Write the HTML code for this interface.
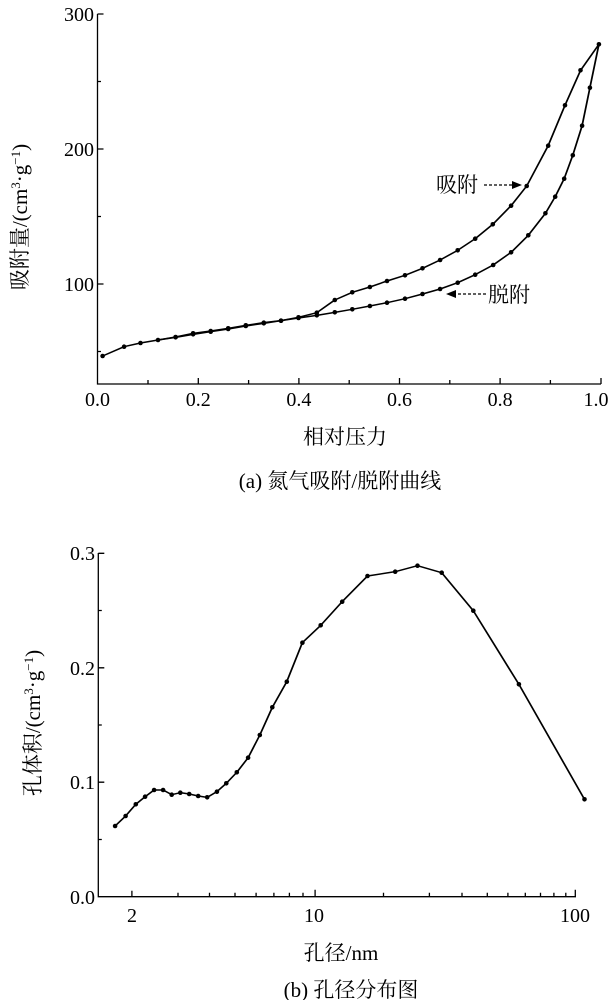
<!DOCTYPE html>
<html><head><meta charset="utf-8"><style>
html,body{margin:0;padding:0;background:#fff}
svg{display:block}
.n{font-family:"Liberation Serif",serif;font-size:20px;fill:#000}
.c{font-family:"Liberation Serif","Noto Serif CJK SC","Noto Sans CJK SC",serif;font-size:21px;fill:#000}
</style></head><body>
<svg width="611" height="1000" viewBox="0 0 611 1000" xmlns="http://www.w3.org/2000/svg">
<!-- TOP CHART -->
<g stroke="#000" stroke-width="1.3" fill="none">
<path d="M97.5,14 V384 H601"/>
<!-- y ticks -->
<path d="M97.5,14 h6 M97.5,81.5 h3.5 M97.5,149 h6 M97.5,216.5 h3.5 M97.5,284 h6 M97.5,351.5 h3.5"/>
<!-- x ticks -->
<path d="M148,384 v-4 M198.3,384 v-6 M248.6,384 v-4 M298.9,384 v-6 M349.2,384 v-4 M399.5,384 v-6 M449.8,384 v-4 M500.1,384 v-6 M550.4,384 v-4 M601,384 v-6"/>
</g>
<g class="n" text-anchor="end">
<text x="94" y="21">300</text><text x="94" y="156">200</text><text x="94" y="291">100</text>
</g>
<g class="n" text-anchor="middle">
<text x="97.5" y="406">0.0</text><text x="198.3" y="406">0.2</text><text x="298.9" y="406">0.4</text><text x="399.5" y="406">0.6</text><text x="500.1" y="406">0.8</text><text x="596" y="406">1.0</text>
</g>
<g transform="scale(0.39016,0.33333)" fill="none" stroke="#000" stroke-width="4.5" stroke-linejoin="round">
<polyline points="263,1068 318,1040 360,1029 405,1020 450,1011 495,1000 540,993 585,985 630,976 676,968 720,962 765,952 812,938 858,900 903,877 948,861 992,843 1038,826 1083,805 1128,780 1173,751 1218,716 1263,673 1310,617 1350,558 1405,437 1448,316 1488,211 1535,133"/>
<polyline points="1535,133 1512,263 1492,377 1468,466 1446,536 1423,590 1398,640 1354,706 1310,757 1264,795 1218,824 1173,848 1128,867 1083,882 1038,896 992,908 948,918 903,928 858,937 812,946 765,954 720,962 676,970 630,978 585,987 540,995 495,1003 450,1012 405,1020"/>
</g>
<g fill="#000" id="dotsA"></g>
<!-- annotations -->
<text class="c" x="436" y="192">吸附</text>
<path d="M484,185 H514" stroke="#000" stroke-width="1.2" stroke-dasharray="3,2"/>
<path d="M522,185 L512,181 L512,189 Z" fill="#000"/>
<text class="c" x="488" y="302">脱附</text>
<path d="M486,294 H455" stroke="#000" stroke-width="1.2" stroke-dasharray="3,2"/>
<path d="M446,294 L456,290 L456,298 Z" fill="#000"/>
<text class="c" x="345" y="444" text-anchor="middle">相对压力</text>
<text class="c" x="340" y="488" text-anchor="middle">(a) 氮气吸附/脱附曲线</text>
<text class="c" transform="translate(27,217) rotate(-90)" text-anchor="middle">吸附量/(cm<tspan font-size="13" dy="-7">3</tspan><tspan dy="7">·g</tspan><tspan font-size="13" dy="-7">−1</tspan><tspan dy="7">)</tspan></text>

<!-- BOTTOM CHART -->
<g stroke="#000" stroke-width="1.3" fill="none">
<path d="M98.3,553 V896.7 H576"/>
<path d="M98.3,553.3 h6 M98.3,610.5 h3.5 M98.3,667.8 h6 M98.3,725 h3.5 M98.3,782.2 h6 M98.3,839.5 h3.5"/>
<g id="xt"></g>
</g>
<g class="n" text-anchor="end">
<text x="95" y="560">0.3</text><text x="95" y="675">0.2</text><text x="95" y="789">0.1</text><text x="95" y="904">0.0</text>
</g>
<g class="n" text-anchor="middle">
<text x="132" y="922">2</text><text x="314" y="922">10</text><text x="575" y="922">100</text>
</g>
<g transform="translate(0,520) scale(0.39016,0.33333)" fill="none" stroke="#000" stroke-width="4.5" stroke-linejoin="round">
<polyline id="pb" points="295,918 322,888 348,853 372,830 395,810 418,810 440,824 462,818 485,822 508,828 531,832 556,815 580,790 607,757 636,713 666,645 698,562 735,485 775,368 822,316 877,245 942,168 1013,155 1070,137 1132,158 1213,272 1330,493 1498,838"/>
</g>
<g fill="#000" id="dotsB"></g>
<text class="c" x="341" y="960" text-anchor="middle">孔径/nm</text>
<text class="c" x="351" y="1000" text-anchor="middle" dy="-3">(b) 孔径分布图</text>
<text class="c" transform="translate(40,723) rotate(-90)" text-anchor="middle">孔体积/(cm<tspan font-size="13" dy="-7">3</tspan><tspan dy="7">·g</tspan><tspan font-size="13" dy="-7">−1</tspan><tspan dy="7">)</tspan></text>

<!-- static dots -->
<g fill="#000">
<circle cx="102.6" cy="356" r="2.3"/><circle cx="124.1" cy="346.7" r="2.3"/><circle cx="140.5" cy="343" r="2.3"/><circle cx="158" cy="340" r="2.3"/><circle cx="175.6" cy="337" r="2.3"/><circle cx="193.1" cy="333.3" r="2.3"/><circle cx="210.7" cy="331" r="2.3"/><circle cx="228.2" cy="328.3" r="2.3"/><circle cx="245.8" cy="325.3" r="2.3"/><circle cx="263.8" cy="322.7" r="2.3"/><circle cx="281" cy="320.7" r="2.3"/><circle cx="298.5" cy="317.3" r="2.3"/><circle cx="316.8" cy="312.7" r="2.3"/><circle cx="334.8" cy="300" r="2.3"/><circle cx="352.3" cy="292.3" r="2.3"/><circle cx="369.9" cy="287" r="2.3"/><circle cx="387" cy="281" r="2.3"/><circle cx="405" cy="275.3" r="2.3"/><circle cx="422.5" cy="268.3" r="2.3"/><circle cx="440.1" cy="260" r="2.3"/><circle cx="457.7" cy="250.3" r="2.3"/><circle cx="475.2" cy="238.7" r="2.3"/><circle cx="492.8" cy="224.3" r="2.3"/><circle cx="511.1" cy="205.7" r="2.3"/><circle cx="526.7" cy="186" r="2.3"/><circle cx="548.2" cy="145.7" r="2.3"/><circle cx="565" cy="105.3" r="2.3"/><circle cx="580.5" cy="70.3" r="2.3"/><circle cx="598.9" cy="44.3" r="2.3"/>
<circle cx="589.9" cy="87.7" r="2.3"/><circle cx="582.1" cy="125.7" r="2.3"/><circle cx="572.8" cy="155.3" r="2.3"/><circle cx="564.2" cy="178.7" r="2.3"/><circle cx="555.2" cy="196.7" r="2.3"/><circle cx="545.4" cy="213.3" r="2.3"/><circle cx="528.3" cy="235.3" r="2.3"/><circle cx="511.1" cy="252.3" r="2.3"/><circle cx="493.2" cy="265" r="2.3"/><circle cx="475.2" cy="274.7" r="2.3"/><circle cx="457.7" cy="282.7" r="2.3"/><circle cx="440.1" cy="289" r="2.3"/><circle cx="422.5" cy="294" r="2.3"/><circle cx="405" cy="298.7" r="2.3"/><circle cx="387" cy="302.7" r="2.3"/><circle cx="369.9" cy="306" r="2.3"/><circle cx="352.3" cy="309.3" r="2.3"/><circle cx="334.8" cy="312.3" r="2.3"/><circle cx="316.8" cy="315.3" r="2.3"/><circle cx="298.5" cy="318" r="2.3"/><circle cx="281" cy="320.7" r="2.3"/><circle cx="263.8" cy="323.3" r="2.3"/><circle cx="245.8" cy="326" r="2.3"/><circle cx="228.2" cy="329" r="2.3"/><circle cx="210.7" cy="331.7" r="2.3"/><circle cx="193.1" cy="334.3" r="2.3"/><circle cx="175.6" cy="337.3" r="2.3"/>
</g>
<g fill="#000">
<circle cx="115.1" cy="826" r="2.3"/><circle cx="125.6" cy="816" r="2.3"/><circle cx="135.8" cy="804.3" r="2.3"/><circle cx="145.1" cy="796.7" r="2.3"/><circle cx="154.1" cy="790" r="2.3"/><circle cx="163.1" cy="790" r="2.3"/><circle cx="171.7" cy="794.7" r="2.3"/><circle cx="180.3" cy="792.7" r="2.3"/><circle cx="189.2" cy="794" r="2.3"/><circle cx="198.2" cy="796" r="2.3"/><circle cx="207.2" cy="797.3" r="2.3"/><circle cx="216.9" cy="791.7" r="2.3"/><circle cx="226.3" cy="783.3" r="2.3"/><circle cx="236.8" cy="772.3" r="2.3"/><circle cx="248.1" cy="757.7" r="2.3"/><circle cx="259.8" cy="735" r="2.3"/><circle cx="272.3" cy="707.3" r="2.3"/><circle cx="286.8" cy="681.7" r="2.3"/><circle cx="302.4" cy="642.7" r="2.3"/><circle cx="320.7" cy="625.3" r="2.3"/><circle cx="342.2" cy="601.7" r="2.3"/><circle cx="367.5" cy="576" r="2.3"/><circle cx="395.2" cy="571.7" r="2.3"/><circle cx="417.5" cy="565.7" r="2.3"/><circle cx="441.7" cy="572.7" r="2.3"/><circle cx="473.3" cy="610.7" r="2.3"/><circle cx="518.9" cy="684.3" r="2.3"/><circle cx="584.5" cy="799.3" r="2.3"/>
</g>
<!-- log x ticks bottom -->
<g stroke="#000" stroke-width="1.3">
<path d="M131.9,896.7 v-6 M178,896.7 v-4 M209.5,896.7 v-4 M235,896.7 v-4 M256.1,896.7 v-4 M273.9,896.7 v-4 M289.4,896.7 v-4 M303,896.7 v-4 M315.1,896.7 v-7 M383.5,896.7 v-4 M429.4,896.7 v-4 M462,896.7 v-4 M487.3,896.7 v-4 M507.9,896.7 v-4 M525.3,896.7 v-4 M540.5,896.7 v-4 M553.9,896.7 v-4 M565.8,896.7 v-4 M575.3,896.7 v-7"/>
</g>
</svg>
</body></html>
